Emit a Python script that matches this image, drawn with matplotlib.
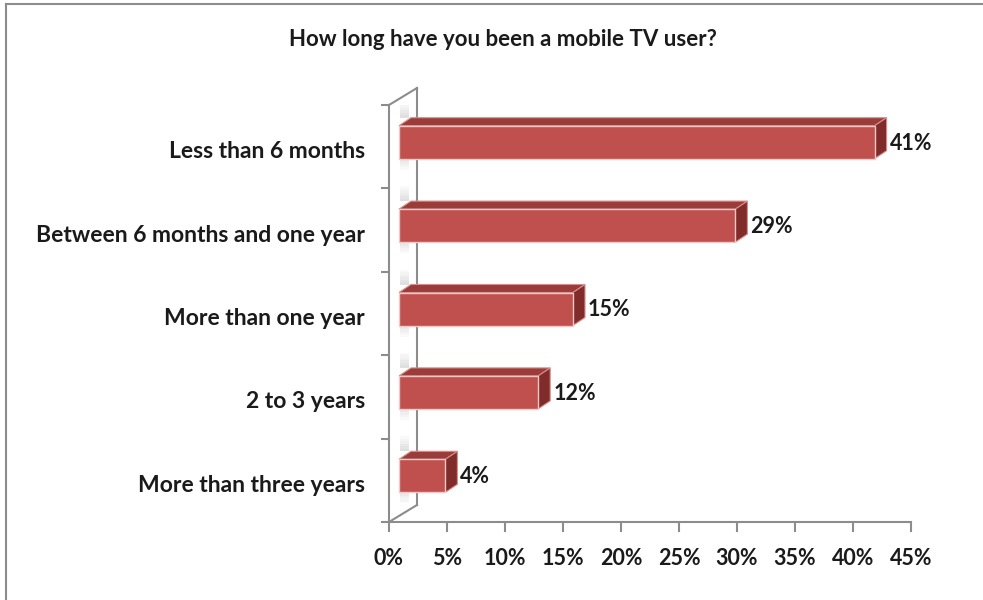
import matplotlib
matplotlib.use("Agg")
import matplotlib.pyplot as plt
from matplotlib.patches import Polygon, Rectangle
from matplotlib.lines import Line2D
import matplotlib.transforms as mtransforms

categories = ["Less than 6 months", "Between 6 months and one year",
              "More than one year", "2 to 3 years", "More than three years"]
values = [41, 29, 15, 12, 4]
value_labels = ["41%", "29%", "15%", "12%", "4%"]
xticks = [0, 5, 10, 15, 20, 25, 30, 35, 40, 45]
xtick_labels = ["0%", "5%", "10%", "15%", "20%", "25%", "30%", "35%", "40%", "45%"]

FONT = "Lato"
FS = 15.5
W, H = 983, 600
front_col = "#C0504D"
top_col = "#9A3C39"
side_col = "#7F2C2A"
axis_col = "#8C8C8C"
text_col = "#1A1A1A"

fig = plt.figure(figsize=(W / 100, H / 100), dpi=100)
# axes box in pixels: x 389..911, y 105..522 (from top)
ax = fig.add_axes([389 / W, (H - 522) / H, 522 / W, 417 / H])
ax.set_xlim(0, 45)
ax.set_ylim(len(categories), 0)

px_x = 522 / 45.0             # pixels per percent
px_y = 417 / len(categories)  # pixels per band

# bar geometry (pixels)
shift_x, shift_y = 10, 4.5     # front face offset from the axis plane
depth_x, depth_y = 12, 8       # depth of the 3d box
bar_h = 33 / px_y              # front face height in band units

sx = shift_x / px_x
sy = shift_y / px_y
dx = depth_x / px_x
dy = depth_y / px_y

for i, (v, lab) in enumerate(zip(values, value_labels)):
    yc = i + 0.5 - sy
    y0, y1 = yc - bar_h / 2, yc + bar_h / 2   # y0 is the top (inverted axis)
    x0, x1 = sx, v + sx
    # faint fading shadow on the back wall, above and below the bar
    for k in range(6):
        a = 0.25 * (1 - k / 6)
        ax.add_patch(Rectangle((x0 + 1 / px_x, y0 - dy - (k + 1) * 2.5 / px_y),
                               9 / px_x, 2.5 / px_y, fc="#808080", alpha=a,
                               ec="none", zorder=1))
        ax.add_patch(Rectangle((x0 + 1 / px_x, y1 - dy + (k * 2.5 + 4) / px_y),
                               9 / px_x, 2.5 / px_y, fc="#808080", alpha=a,
                               ec="none", zorder=1))
    top = Polygon([(x0, y0), (x1, y0), (x1 + dx, y0 - dy), (x0 + dx, y0 - dy)],
                  closed=True, fc=top_col, ec="#D98C8A", lw=0.8, zorder=3)
    side = Polygon([(x1, y0), (x1 + dx, y0 - dy), (x1 + dx, y1 - dy), (x1, y1)],
                   closed=True, fc=side_col, ec="#D98C8A", lw=0.8, zorder=3)
    ax.add_patch(top)
    ax.add_patch(side)
    ax.barh([yc], [v], left=x0, height=bar_h, color=front_col,
            edgecolor="#F0C8C7", linewidth=1.0, zorder=4)
    ax.text(x1 + dx + 3 / px_x, yc + 1 / px_y, lab, ha="left", va="center",
            fontsize=FS, fontweight="bold", family=FONT, color=text_col,
            zorder=5)

# back wall lines
wx = 28 / px_x
wy = 17 / px_y
n = len(categories)
for seg in [[(0, 0), (wx, -wy)], [(0, n), (wx, n - wy)], [(wx, -wy), (wx, n - wy)]]:
    (a, b), (c, d) = seg
    ax.add_line(Line2D([a, c], [b, d], color=axis_col, lw=1.5,
                       clip_on=False, zorder=2))

for s in ["top", "right"]:
    ax.spines[s].set_visible(False)
for s in ["left", "bottom"]:
    ax.spines[s].set_color(axis_col)
    ax.spines[s].set_linewidth(1.5)

ax.set_xticks(xticks)
ax.set_xticklabels(xtick_labels, fontsize=FS, fontweight="bold",
                   family=FONT, color=text_col)
ax.tick_params(axis="x", direction="out", length=7, width=1.5,
               color=axis_col, pad=12)
ax.set_yticks(range(n + 1))
ax.set_yticklabels([])
ax.tick_params(axis="y", direction="out", length=6, width=1.5, color=axis_col)

off = mtransforms.ScaledTranslation(-24 / 100, -5 / 100, fig.dpi_scale_trans)
ytr = mtransforms.blended_transform_factory(ax.transAxes, ax.transData) + off
for i, c in enumerate(categories):
    ax.text(0, i + 0.5, c, transform=ytr, ha="right", va="center",
            fontsize=16.5, fontweight="bold", family=FONT, color=text_col)

fig.text(503 / W, 1 - 40 / H, "How long have you been a mobile TV user?",
         ha="center", va="center", fontsize=16, fontweight="bold",
         family=FONT, color=text_col)

# frame of the original chart area
fig.add_artist(Line2D([6 / W, 1], [1 - 4 / H, 1 - 4 / H], color=axis_col,
                      lw=1.5, transform=fig.transFigure))
fig.add_artist(Line2D([6 / W, 6 / W], [0, 1 - 4 / H], color=axis_col,
                      lw=1.5, transform=fig.transFigure))

fig.savefig("out.png", dpi=100)
